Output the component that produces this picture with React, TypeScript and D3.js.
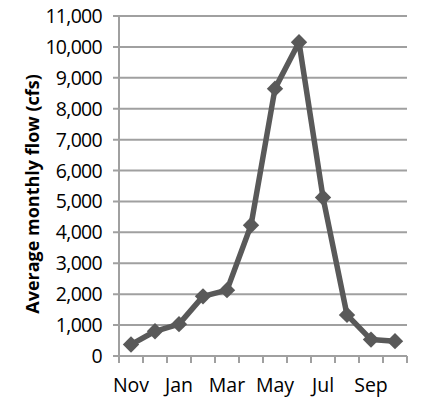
import React from "react";
import * as d3 from "d3";

const months = ["Nov", "Dec", "Jan", "Feb", "Mar", "Apr", "May", "Jun", "Jul", "Aug", "Sep", "Oct"];
const flow = [370, 800, 1030, 1930, 2130, 4230, 8650, 10150, 5130, 1330, 530, 480];
const labelMonths = ["Nov", "Jan", "Mar", "May", "Jul", "Sep"];
const yTicks = d3.range(0, 11001, 1000);

const W = 425;
const H = 398;
const M = { left: 119, right: 18, top: 16, bottom: 42 };
const FONT = "'Open Sans', sans-serif";
const GRID = "#a0a0a0";
const INK = "#595959";

export default function App() {
  const x = d3
    .scaleBand<string>()
    .domain(months)
    .range([M.left, W - M.right]);
  const y = d3
    .scaleLinear()
    .domain([0, 11000])
    .range([H - M.bottom, M.top]);

  const line = d3
    .line<number>()
    .x((_, i) => x(months[i])! + x.bandwidth() / 2)
    .y((d) => y(d));

  const fmt = d3.format(",");
  const y0 = y(0);
  const edges = months.map((m) => x(m)!).concat([W - M.right]);

  return (
    <svg
      width={W}
      height={H}
      style={{ position: "absolute", left: 0, top: 0, display: "block" }}
    >
      <rect width={W} height={H} fill="white" />
      {yTicks.map((t) => (
        <g key={t}>
          <line
            x1={M.left - 6}
            x2={W - M.right}
            y1={y(t)}
            y2={y(t)}
            stroke={GRID}
            strokeWidth={2}
          />
          <text
            x={102}
            y={y(t)}
            dy="0.36em"
            textAnchor="end"
            fontFamily={FONT}
            fontSize={19.5}
            fontWeight={500}
            letterSpacing={-0.7}
            fill="#000"
          >
            {fmt(t)}
          </text>
        </g>
      ))}
      <line x1={M.left} x2={M.left} y1={M.top} y2={y0 + 7} stroke={GRID} strokeWidth={2} />
      {edges.map((e, i) => (
        <line key={i} x1={e} x2={e} y1={y0} y2={y0 + 7} stroke={GRID} strokeWidth={2} />
      ))}
      {labelMonths.map((m) => (
        <text
          key={m}
          x={x(m)! + x.bandwidth() / 2}
          y={391.5}
          textAnchor="middle"
          fontFamily={FONT}
          fontSize={19.5}
          fontWeight={500}
          fill="#000"
        >
          {m}
        </text>
      ))}
      <text
        transform={`translate(39,${(M.top + y0) / 2 + 8}) rotate(-90)`}
        textAnchor="middle"
        fontFamily={FONT}
        fontSize={18}
        fontWeight={700}
        fill="#000"
      >
        Average monthly flow (cfs)
      </text>
      <path
        d={line(flow) ?? ""}
        fill="none"
        stroke={INK}
        strokeWidth={5.5}
        strokeLinejoin="round"
      />
      {flow.map((v, i) => {
        const cx = x(months[i])! + x.bandwidth() / 2;
        const cy = y(v);
        const r = 8.2;
        return (
          <path
            key={i}
            d={`M${cx},${cy - r}L${cx + r},${cy}L${cx},${cy + r}L${cx - r},${cy}Z`}
            fill={INK}
          />
        );
      })}
    </svg>
  );
}
